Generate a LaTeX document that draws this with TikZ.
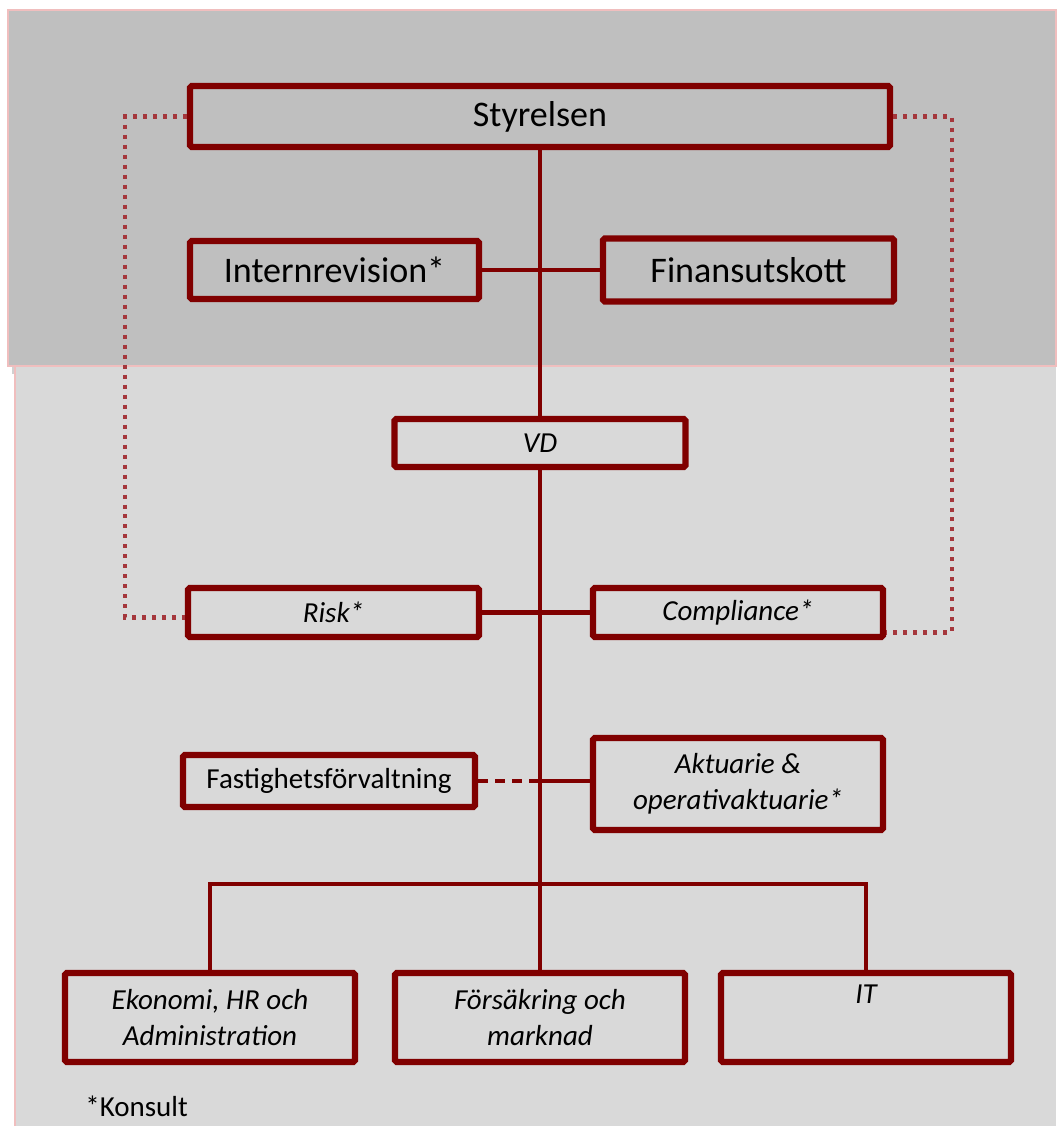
\documentclass[tikz,border=0pt]{standalone}
\usepackage{fontspec}
\setmainfont{Carlito}
\usepackage{xcolor}
\usetikzlibrary{positioning}
\definecolor{boxred}{RGB}{128,0,0}
\definecolor{dotred}{RGB}{165,55,60}
\definecolor{boardgray}{RGB}{191,191,191}
\definecolor{staffgray}{RGB}{217,217,217}
\definecolor{edgepink}{RGB}{240,190,190}

\begin{document}
\begin{tikzpicture}[x=0.02cm, y=-0.02cm,
    orgbox/.style={draw=boxred, line width=3.6pt, rounded corners=1pt, align=center,
        font=\fontsize{16.5}{20.5}\selectfont, inner sep=0pt},
    bigbox/.style={orgbox, font=\fontsize{20.5}{24}\selectfont},
    link/.style={boxred, line width=2.8pt},
    dotlink/.style={dotred, line width=2.3pt, dash pattern=on 0.08cm off 0.12cm}]
    \useasboundingbox (0,0) rectangle (1056,1126);
    % backgrounds
    \fill[black, opacity=0.18] (12,366) rectangle (1056,374);
    \fill[staffgray] (15,366) rectangle (1056,1126);
    \draw[edgepink, line width=0.8pt] (15,366) -- (15,1126);
    \filldraw[fill=boardgray, draw=edgepink, line width=0.8pt] (8,10) rectangle (1056,366);

    % boxes
    \node[bigbox, minimum width=14cm, minimum height=1.22cm] (sty) at (540,116.5) {Styrelsen};
    \node[bigbox, minimum width=5.78cm, minimum height=1.16cm] (intrev) at (334.5,270) {Internrevision*};
    \node[bigbox, minimum width=5.82cm, minimum height=1.26cm] (finans) at (748.5,270) {Finansutskott};
    \node[orgbox, minimum width=5.82cm, minimum height=0.96cm] (vd) at (540,443) {\itshape VD};
    \node[orgbox, minimum width=5.82cm, minimum height=0.98cm] (risk) at (333.5,612.5) {\itshape Risk*};
    \node[orgbox, minimum width=5.8cm, minimum height=0.98cm] (compl) at (738,612.5) {\itshape Compliance*};
    \node[orgbox, minimum width=5.84cm, minimum height=1.04cm] (fast) at (329,781) {Fastighetsförvaltning};
    \node[orgbox, minimum width=5.8cm, minimum height=1.84cm] (akt) at (738,784) {\itshape Aktuarie \&\\ \itshape operativaktuarie*};
    \node[orgbox, minimum width=5.8cm, minimum height=1.78cm] (eko) at (210,1017.5) {\itshape Ekonomi, HR och\\ \itshape Administration};
    \node[orgbox, minimum width=5.8cm, minimum height=1.78cm] (fors) at (540,1017.5) {\itshape Försäkring och\\ \itshape marknad};
    \node[orgbox, minimum width=5.8cm, minimum height=1.78cm] (it) at (866,1017.5) {\itshape IT\\ \strut};
    \node[anchor=west, font=\fontsize{16.5}{20.5}\selectfont, inner sep=0pt] (konsult) at (85,1106) {*Konsult};

    \coordinate (dl) at (125,120);
    \coordinate (dr) at (952,120);
    \coordinate (bus) at (866,884);

    % lines
    \draw[link] (sty.south) -- (vd.north);
    \draw[link] (intrev.east) -- (finans.west);
    \draw[link] (vd.south) -- (fors.north);
    \draw[link] (risk.east) -- (compl.west);
    \draw[link, dash pattern=on 0.2cm off 0.14cm] (fast.east) -- (fast.east -| vd.south);
    \draw[link] (fast.east -| vd.south) -- (akt.west |- fast.east);
    \draw[link] (eko.north) |- (bus) -- (it.north);
    \draw[dotlink] (sty.west) -| (dl) |- ([yshift=-0.1cm]risk.west);
    \draw[dotlink] (sty.east) -| (dr) |- ([yshift=-0.4cm]compl.east);
\end{tikzpicture}
\end{document}
